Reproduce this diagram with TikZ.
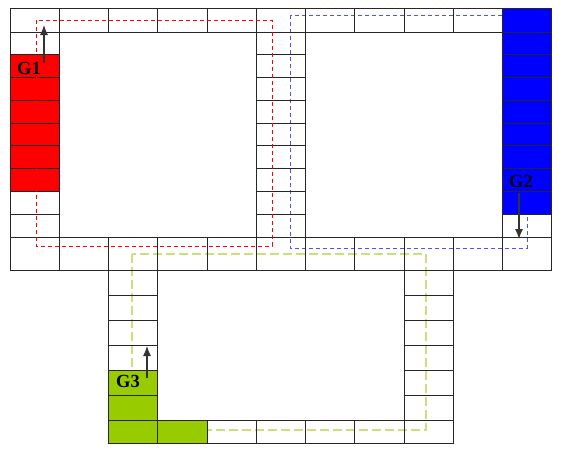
\documentclass[tikz,border=0pt]{standalone}
\usepackage{fontspec}
\setmainfont{Liberation Serif}
\usetikzlibrary{arrows.meta}
\definecolor{homegreen}{RGB}{153,204,0}
\definecolor{trackgreen}{RGB}{200,225,120}
\definecolor{trackblue}{RGB}{80,80,255}

\begin{document}
\begin{tikzpicture}[x=1pt, y=-1pt, >={Latex[length=10pt,width=8pt]},
    cell/.style={draw=black!85, line width=1pt},
    track/.style={line width=1pt, dash pattern=on 4pt off 3pt},
    lbl/.style={font=\bfseries\fontsize{18.5}{18.5}\selectfont, inner sep=0pt}]
  \useasboundingbox (0,0) rectangle (564,451);
  \def\cw{49.27}
  \def\rh{22.78}

  % Tracks of G2 and G3
  \draw[track, trackblue] (290,15) rectangle (527,248);
  \draw[track, trackgreen, line width=1.7pt, dash pattern=on 9pt off 4pt] (132,254) rectangle (426,430);

  % Home cells
  \foreach \j in {1,...,6}
    \fill[red] (10,{32+\j*\rh}) rectangle ++(\cw,\rh);
  \fill[blue] ({10+10*\cw},8) rectangle ({10+11*\cw},{32+8*\rh});
  \fill[homegreen] ({10+2*\cw},370) rectangle ++(\cw,50);
  \fill[homegreen] ({10+2*\cw},420) rectangle ++({2*\cw},23);

  % Upper board
  \foreach \i in {0,...,10} {
    \draw[cell] ({10+\i*\cw},8) rectangle ++(\cw,24);
    \draw[cell] ({10+\i*\cw},237) rectangle ++(\cw,33);
  }
  \foreach \c in {0,5,10}
    \foreach \j in {0,...,8}
      \draw[cell] ({10+\c*\cw},{32+\j*\rh}) rectangle ++(\cw,\rh);

  % Lower board
  \foreach \c in {2,8}
    \foreach \k in {0,...,5}
      \draw[cell] ({10+\c*\cw},{270+\k*25}) rectangle ++(\cw,25);
  \foreach \i in {2,...,8}
    \draw[cell] ({10+\i*\cw},420) rectangle ++(\cw,23);

  % Track of G1
  \draw[track, red] (36,20) rectangle (272,246);

  % Start labels
  \node[lbl] (g1) at (29,68) {G1};
  \node[lbl] (g2) at (521,181) {G2};
  \node[lbl] (g3) at (128,381.5) {G3};

  % Moving directions
  \coordinate (g1from) at (44,63);
  \coordinate (g1to) at (44,25);
  \coordinate (g2from) at (519,193);
  \coordinate (g2to) at (519,239);
  \coordinate (g3from) at (147,378);
  \coordinate (g3to) at (147,346);
  \draw[->, black!80, line width=1.1pt] (g1from) -- (g1to);
  \draw[->, black!80, line width=1.1pt] (g2from) -- (g2to);
  \draw[->, black!80, line width=1.1pt] (g3from) -- (g3to);
\end{tikzpicture}
\end{document}
